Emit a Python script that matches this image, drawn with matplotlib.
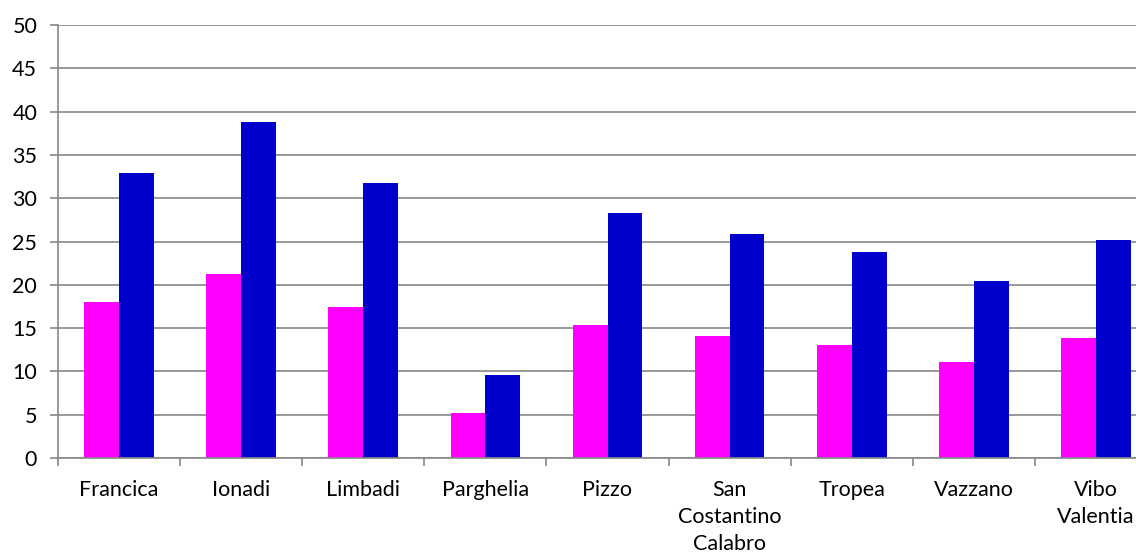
import matplotlib
matplotlib.use("Agg")
import matplotlib.pyplot as plt
import numpy as np

# values
comuni = ["Francica", "Ionadi", "Limbadi", "Parghelia", "Pizzo",
          "San\nCostantino\nCalabro", "Tropea", "Vazzano", "Vibo\nValentia"]
serie_magenta = [18.0, 21.2, 17.4, 5.2, 15.4, 14.1, 13.0, 11.1, 13.8]
serie_blu = [32.9, 38.8, 31.7, 9.6, 28.3, 25.9, 23.8, 20.4, 25.2]
y_ticks = list(range(0, 55, 5))

plt.rcParams['font.family'] = ['Lato', 'DejaVu Sans']

fig = plt.figure(figsize=(11.36, 5.56), dpi=100)
# the reference plot area runs past the right edge of the picture
ax = fig.add_axes([58 / 1136, 98 / 556, 1099 / 1136, 433 / 556])

x = np.arange(len(comuni))
w = 0.285
ax.bar(x - w / 2, serie_magenta, width=w, color='#FF00FF', linewidth=0, zorder=3)
ax.bar(x + w / 2, serie_blu, width=w, color='#0000CC', linewidth=0, zorder=3)

ax.set_xlim(-0.5, len(comuni) - 0.5)
ax.set_ylim(0, 50)
ax.set_yticks(y_ticks)
ax.set_yticklabels([str(v) for v in y_ticks], fontsize=15.5)

# tick marks at the category boundaries, labels at the centres
ax.set_xticks(np.arange(-0.5, len(comuni), 1.0))
ax.set_xticklabels([])
ax.set_xticks(x, minor=True)
ax.set_xticklabels(comuni, minor=True, fontsize=15.5, linespacing=1.42, va='top')
ax.tick_params(axis='x', which='minor', length=0, pad=16)
ax.tick_params(axis='x', which='major', length=6, color='#888888', width=1.2)
ax.tick_params(axis='y', length=6, color='#888888', width=1.2, pad=9)

ax.yaxis.grid(True, color='#999999', linewidth=1.4, zorder=0)
for s in ['top', 'right']:
    ax.spines[s].set_visible(False)
for s in ['left', 'bottom']:
    ax.spines[s].set_color('#888888')
    ax.spines[s].set_linewidth(1.2)
ax.spines['bottom'].set_zorder(4)

fig.savefig("out.png", dpi=100)
